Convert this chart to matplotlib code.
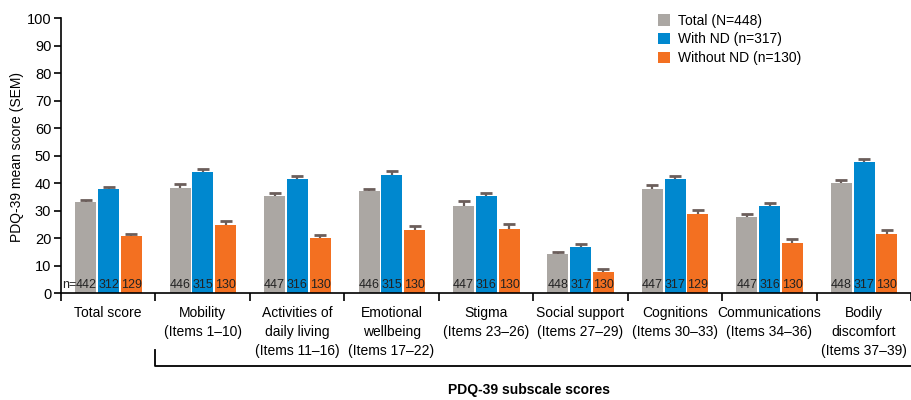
import numpy as np
import matplotlib.pyplot as plt
from matplotlib.patches import Patch

plt.rcParams["font.family"] = ["Liberation Sans", "DejaVu Sans"]

# ---------------------------------------------------------
# data
# ---------------------------------------------------------
categories = [
    "Total score",
    "Mobility\n(Items 1\u201310)",
    "Activities of\ndaily living\n(Items 11\u201316)",
    "Emotional\nwellbeing\n(Items 17\u201322)",
    "Stigma\n(Items 23\u201326)",
    "Social support\n(Items 27\u201329)",
    "Cognitions\n(Items 30\u201333)",
    "Communications\n(Items 34\u201336)",
    "Bodily\ndiscomfort\n(Items 37\u201339)",
]

series_names = ["Total (N=448)", "With ND (n=317)", "Without ND (n=130)"]

total_mean = [33.2, 38.3, 35.4, 37.2, 31.7, 14.3, 37.9, 27.7, 40.1]
total_sem = [0.6, 1.3, 1.0, 0.8, 1.7, 0.8, 1.4, 1.2, 1.2]
total_n = [442, 446, 447, 446, 447, 448, 447, 447, 448]

nd_mean = [37.9, 44.1, 41.6, 43.0, 35.4, 16.8, 41.6, 31.7, 47.7]
nd_sem = [0.9, 1.2, 1.2, 1.4, 1.2, 1.2, 1.2, 1.2, 1.2]
nd_n = [312, 315, 316, 315, 316, 317, 317, 316, 317]

wo_mean = [20.8, 24.8, 20.1, 23.0, 23.4, 7.7, 28.8, 18.3, 21.6]
wo_sem = [0.9, 1.6, 1.2, 1.6, 1.9, 1.0, 1.6, 1.6, 1.5]
wo_n = [129, 130, 130, 130, 130, 130, 129, 130, 130]

colors = ["#aba7a3", "#0088cf", "#f37021"]
err_color = "#6b5e5b"

# ---------------------------------------------------------
# figure
# ---------------------------------------------------------
fig = plt.figure(figsize=(9.11, 4.0), dpi=100)
ax = fig.add_axes([61 / 911, 106.7 / 400, 1 - 61 / 911, 275 / 400])

x = np.arange(len(categories))
offsets = [0.262, 0.503, 0.744]
width = 0.222

means = [total_mean, nd_mean, wo_mean]
sems = [total_sem, nd_sem, wo_sem]
ns = [total_n, nd_n, wo_n]

for i in range(3):
    pos = x + offsets[i]
    m = np.array(means[i])
    e = np.array(sems[i])
    ax.bar(pos, m, width=width, color=colors[i], zorder=2)
    # only the upper half of the error bar, cap on top only
    ax.errorbar(pos, m, yerr=[np.zeros(len(x)), e], fmt="none",
                ecolor=err_color, elinewidth=1.6, capsize=0, zorder=1)
    ax.plot(pos, m + e, ls="none", marker="_", ms=8, mew=2.0,
            color=err_color, zorder=3)
    for p, n in zip(pos, ns[i]):
        ax.text(p, 0.7, str(n), ha="center", va="bottom", fontsize=9,
                color="#222222", zorder=4)

ax.text(0.008, 0.7, "n=", ha="left", va="bottom", fontsize=9, color="#222222")

ax.set_xlim(0, (911 - 61) / 95.25)
ax.set_ylim(0, 100)
ax.set_yticks(range(0, 101, 10))
ax.tick_params(axis="y", labelsize=10.5, length=5, width=1.2, pad=2)

ax.set_xticks(range(0, 10))
ax.set_xticklabels([])
ax.tick_params(axis="x", which="major", length=6, width=1.2)
ax.set_xticks(x + 0.5, minor=True)
ax.set_xticklabels(categories, minor=True, fontsize=10, linespacing=1.45)
ax.tick_params(axis="x", which="minor", length=0, pad=9)

for s in ["top", "right"]:
    ax.spines[s].set_visible(False)
for s in ["left", "bottom"]:
    ax.spines[s].set_linewidth(1.2)

fig.text(17 / 911, 1 - 157 / 400, "PDQ-39 mean score (SEM)", rotation=90,
         ha="center", va="center", fontsize=10)

# bracket for subscales
trans = ax.get_xaxis_transform()
ax.plot([1, 1, ax.get_xlim()[1]], [-0.206, -0.264, -0.264], color="black",
        lw=1.3, transform=trans, clip_on=False)
ax.text(4.96, -0.352, "PDQ-39 subscale scores", transform=trans, ha="center",
        va="center", fontsize=10, fontweight="bold")

handles = [Patch(facecolor=c, edgecolor="none") for c in colors]
fig.legend(handles, series_names, loc="upper left",
           bbox_to_anchor=(652 / 911, 1 - 8 / 400), frameon=False,
           fontsize=10, handlelength=0.9, handleheight=0.9,
           handletextpad=0.6, labelspacing=0.35, borderaxespad=0)

fig.savefig("out.png", dpi=100)
